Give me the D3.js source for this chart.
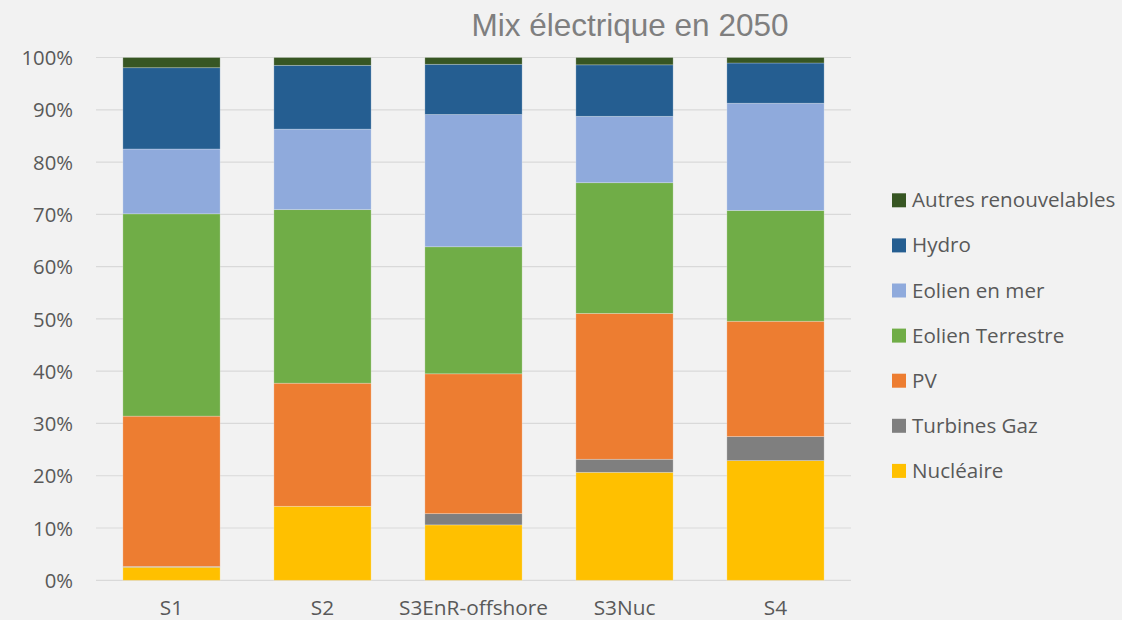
<!DOCTYPE html>
<html>
<head>
<meta charset="utf-8">
<script src="https://cdn.jsdelivr.net/npm/d3@7"></script>
<style>
  html, body { margin: 0; padding: 0; background: #F2F2F2; }
  svg { display: block; }
</style>
</head>
<body>
<svg id="chart" width="1122" height="620"></svg>
<script>
// ---- data ----
const categories = ["S1", "S2", "S3EnR-offshore", "S3Nuc", "S4"];
const seriesNames = ["Nucléaire", "Turbines Gaz", "PV", "Eolien Terrestre", "Eolien en mer", "Hydro", "Autres renouvelables"];
const nucleaire = [2.5, 14.15, 10.6, 20.65, 22.9];
const turbinesGaz = [0.15, 0, 2.15, 2.5, 4.6];
const pv = [28.75, 23.55, 26.75, 27.9, 22.05];
const eolienTerrestre = [38.7, 33.2, 24.3, 25.0, 21.2];
const eolienMer = [12.4, 15.4, 25.3, 12.7, 20.5];
const hydro = [15.55, 12.2, 9.6, 9.85, 7.7];
const autres = [1.95, 1.5, 1.3, 1.4, 1.05];
const yTicks = [0, 10, 20, 30, 40, 50, 60, 70, 80, 90, 100];
const chartTitle = "Mix électrique en 2050";

const colors = ["#FFC000", "#7F7F7F", "#ED7D31", "#70AD47", "#8FAADC", "#255E91", "#375623"];
const seriesValues = [nucleaire, turbinesGaz, pv, eolienTerrestre, eolienMer, hydro, autres];

// ---- build table ----
const table = categories.map((c, i) => {
  const row = { cat: c };
  seriesNames.forEach((s, j) => { row[s] = seriesValues[j][i]; });
  return row;
});
const stacked = d3.stack().keys(seriesNames)(table);

const svg = d3.select("#chart");
const plotLeft = 96, plotRight = 851, plotTop = 57.5, plotBottom = 580.3;

const x = d3.scaleBand().domain(categories).range([plotLeft, plotRight]).paddingInner(0.356).paddingOuter(0.178);
const y = d3.scaleLinear().domain([0, 100]).range([plotBottom, plotTop]);

// gridlines
svg.append("g").selectAll("line").data(yTicks).join("line")
  .attr("x1", plotLeft).attr("x2", plotRight)
  .attr("y1", d => y(d)).attr("y2", d => y(d))
  .attr("stroke", "#D9D9D9").attr("stroke-width", 1.2);

// y axis labels
const yAxis = d3.axisLeft(y).tickValues(yTicks).tickFormat(d => d + "%").tickSize(0).tickPadding(0);
const yg = svg.append("g").attr("transform", `translate(73,0)`).call(yAxis);
yg.select(".domain").remove();
yg.selectAll("text")
  .attr("fill", "#595959")
  .style("font-family", "'Open Sans', sans-serif")
  .style("font-size", "20.3px")
  .attr("dy", "0.35em");

// bars
svg.append("g").selectAll("g").data(stacked).join("g")
  .attr("fill", (d, i) => colors[i])
  .selectAll("rect").data(d => d).join("rect")
  .attr("x", d => x(d.data.cat))
  .attr("width", x.bandwidth())
  .attr("y", d => y(d[1]))
  .attr("height", d => Math.max(0, y(d[0]) - y(d[1])))
  .attr("stroke", "rgba(255,255,255,0.3)")
  .attr("stroke-width", 0.8);

// x axis labels
const xAxis = d3.axisBottom(x).tickSize(0).tickPadding(0);
const xg = svg.append("g").attr("transform", `translate(0,615)`).call(xAxis);
xg.select(".domain").remove();
xg.selectAll("text")
  .attr("fill", "#595959")
  .attr("dy", "0")
  .attr("y", 0)
  .style("font-family", "'Open Sans', sans-serif")
  .style("font-size", "20.8px");

// title
svg.append("text")
  .attr("x", 630).attr("y", 36)
  .attr("text-anchor", "middle")
  .attr("fill", "#7F7F7F")
  .style("font-family", "'Liberation Sans', Arial, sans-serif")
  .style("font-size", "31.5px")
  .text(chartTitle);

// legend (reverse order, top = Autres renouvelables)
const legendOrder = seriesNames.map((s, i) => ({ name: s, color: colors[i] })).reverse();
const lg = svg.append("g");
const items = lg.selectAll("g").data(legendOrder).join("g")
  .attr("transform", (d, i) => `translate(892, ${200.3 + i * 45.1})`);
items.append("rect")
  .attr("x", 0).attr("y", -7).attr("width", 14).attr("height", 14)
  .attr("fill", d => d.color);
items.append("text")
  .attr("x", 20).attr("y", 7)
  .attr("fill", "#595959")
  .style("font-family", "'Open Sans', sans-serif")
  .style("font-size", "20.6px")
  .text(d => d.name);
</script>
</body>
</html>
